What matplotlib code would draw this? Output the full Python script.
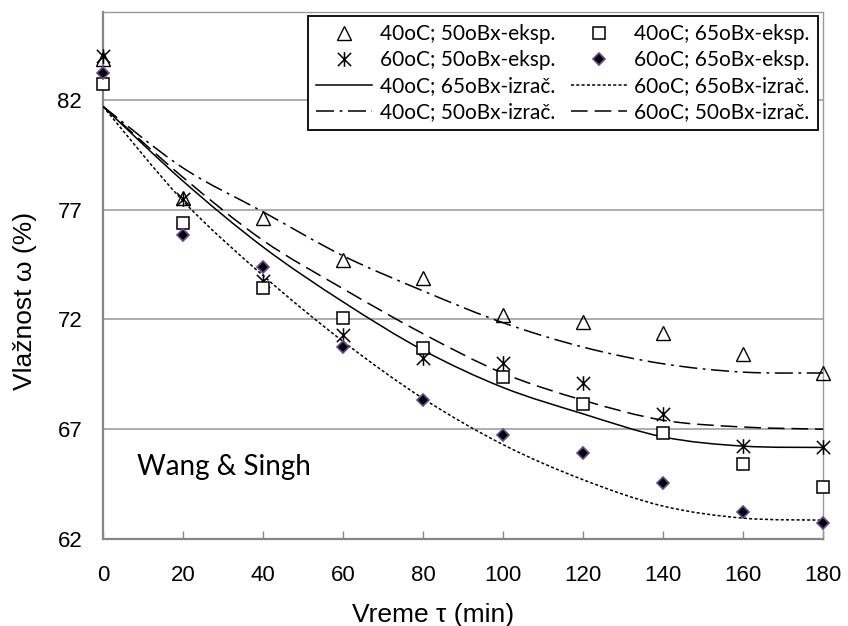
import matplotlib
matplotlib.use("Agg")
import matplotlib.pyplot as plt
from matplotlib.path import Path
from matplotlib.patches import PathPatch
from matplotlib.lines import Line2D
import numpy as np

plt.rcParams['font.family'] = ['Liberation Sans', 'DejaVu Sans']
plt.rcParams['lines.scale_dashes'] = False

# ---- data ----
time = [0, 20, 40, 60, 80, 100, 120, 140, 160, 180]
exp_40_50 = [83.85, 77.55, 76.6, 74.7, 73.9, 72.2, 71.88, 71.4, 70.42, 69.54]
exp_40_65 = [82.7, 76.4, 73.45, 72.05, 70.7, 69.4, 68.16, 66.82, 65.4, 64.37]
exp_60_50 = [84.0, 77.5, 73.75, 71.27, 70.25, 70.0, 69.1, 67.7, 66.23, 66.17]
exp_60_65 = [83.2, 75.85, 74.4, 70.73, 68.32, 66.75, 65.93, 64.54, 63.25, 62.75]

calc_40_65 = [81.7, 78.3, 75.3, 72.8, 70.6, 68.9, 67.7, 66.65, 66.23, 66.17]
calc_60_65 = [81.7, 77.4, 74.0, 71.0, 68.4, 66.3, 64.7, 63.5, 62.95, 62.86]
calc_40_50 = [81.7, 78.9, 76.9, 74.9, 73.3, 71.85, 70.74, 69.98, 69.6, 69.56]
calc_60_50 = [81.7, 78.47, 75.6, 73.4, 71.35, 69.55, 68.32, 67.41, 67.1, 67.0]

labels = ["40oC; 50oBx-eksp.", "40oC; 65oBx-eksp.",
          "60oC; 50oBx-eksp.", "60oC; 65oBx-eksp.",
          "40oC; 65oBx-izrač.", "60oC; 65oBx-izrač.",
          "40oC; 50oBx-izrač.", "60oC; 50oBx-izrač."]
yticks = [62, 67, 72, 77, 82]
xticks = [0, 20, 40, 60, 80, 100, 120, 140, 160, 180]

# ---- styles ----
style_solid = '-'
style_dotted = (0, (2.2, 1.6))
style_dashdot = (0, (13, 4, 2, 4))
style_dashed = (0, (12, 5))
curve_lw = 1.1
diamond_edge = '#5e4d8e'

# custom asterisk: X plus vertical bar
ast_path = Path([(-1, -1), (1, 1), (-1, 1), (1, -1), (0, -1.1), (0, 1.1)],
                [Path.MOVETO, Path.LINETO, Path.MOVETO, Path.LINETO,
                 Path.MOVETO, Path.LINETO])

fig = plt.figure(figsize=(8.48, 6.26), dpi=100)
ax = fig.add_axes([103/848, 1-539/626, 720/848, 527/626])
ax.set_xlim(0, 180)
ax.set_ylim(62, 86)


def smooth_path(xs, ys):
    pts = np.column_stack([xs, ys]).astype(float)
    n = len(pts)
    verts = [pts[0]]
    codes = [Path.MOVETO]
    for i in range(n - 1):
        p0 = pts[i - 1] if i > 0 else pts[i]
        p1 = pts[i]
        p2 = pts[i + 1]
        p3 = pts[i + 2] if i + 2 < n else pts[i + 1]
        c1 = p1 + (p2 - p0) / 6.0
        c2 = p2 - (p3 - p1) / 6.0
        verts += [c1, c2, p2]
        codes += [Path.CURVE4] * 3
    return Path(verts, codes)


for ys, ls in [(calc_40_65, style_solid), (calc_60_65, style_dotted),
               (calc_40_50, style_dashdot), (calc_60_50, style_dashed)]:
    ax.add_patch(PathPatch(smooth_path(time, ys), fill=False, edgecolor='black',
                           lw=curve_lw, linestyle=ls, zorder=3,
                           transform=ax.transData))

ax.plot(time, exp_40_50, linestyle='none', marker='^', ms=9.5, mfc='none',
        mec='black', mew=1.0, clip_on=False, zorder=4)
ax.plot(time, exp_60_50, linestyle='none', marker=ast_path, ms=10.5,
        mec='black', mew=1.1, clip_on=False, zorder=4)
ax.plot(time, exp_40_65, linestyle='none', marker='s', ms=9, mfc='white',
        mec='black', mew=1.1, clip_on=False, zorder=5)
ax.plot(time, exp_60_65, linestyle='none', marker='D', ms=6.5, mfc='black',
        mec=diamond_edge, mew=1.2, clip_on=False, zorder=6)

# axes styling
ax.set_xticks(xticks)
ax.set_yticks(yticks)
ax.yaxis.grid(True, color='#969696', lw=1.1)
ax.set_axisbelow(True)
for s in ['left', 'bottom']:
    ax.spines[s].set_color('#868686')
    ax.spines[s].set_linewidth(1.6)
for s in ['top', 'right']:
    ax.spines[s].set_color('#9a9a9a')
    ax.spines[s].set_linewidth(1.0)
ax.tick_params(axis='x', direction='in', length=6, width=1, color='#888888',
               labelsize=16, pad=19)
ax.tick_params(axis='y', length=0, labelsize=16, pad=15)

fig.text(433/848, 1 - 622/626, "Vreme τ (min)", fontsize=19,
         ha='center', va='baseline')
fig.text(25/848, 1 - 301/626, "Vlažnost ω (%)", fontsize=19,
         ha='center', va='center', rotation=90)

ax.text(8.5, 64.9, "Wang & Singh", fontsize=20, family='Lato',
        ha='left', va='baseline')

h_tri = Line2D([], [], linestyle='none', marker='^', ms=9.5, mfc='none',
               mec='black', mew=1.0)
h_sq = Line2D([], [], linestyle='none', marker='s', ms=9, mfc='white',
              mec='black', mew=1.1)
h_ast = Line2D([], [], linestyle='none', marker=ast_path, ms=10.5,
               mec='black', mew=1.1)
h_dia = Line2D([], [], linestyle='none', marker='D', ms=6.5, mfc='black',
               mec=diamond_edge, mew=1.2)
h_sol = Line2D([], [], color='black', lw=curve_lw, linestyle=style_solid)
h_dot = Line2D([], [], color='black', lw=curve_lw, linestyle=style_dotted)
h_dd = Line2D([], [], color='black', lw=curve_lw, linestyle=style_dashdot)
h_da = Line2D([], [], color='black', lw=curve_lw, linestyle=style_dashed)

handles = [h_tri, h_ast, h_sol, h_dd, h_sq, h_dia, h_dot, h_da]
labs = [labels[0], labels[2], labels[4], labels[6],
        labels[1], labels[3], labels[5], labels[7]]
leg = ax.legend(handles, labs, ncol=2, loc='upper right',
                bbox_to_anchor=(818/848, 1 - 16/626),
                bbox_transform=fig.transFigure,
                prop={'family': 'Lato', 'size': 15},
                frameon=True, fancybox=False, shadow=False,
                handlelength=2.7, handletextpad=0.35, columnspacing=0.75,
                labelspacing=0.28, borderpad=0.4, borderaxespad=0)
leg.get_frame().set_edgecolor('black')
leg.get_frame().set_linewidth(1.3)
leg.get_frame().set_facecolor('white')
leg.get_frame().set_alpha(1)
leg.set_zorder(10)

fig.savefig("out.png", dpi=100)
